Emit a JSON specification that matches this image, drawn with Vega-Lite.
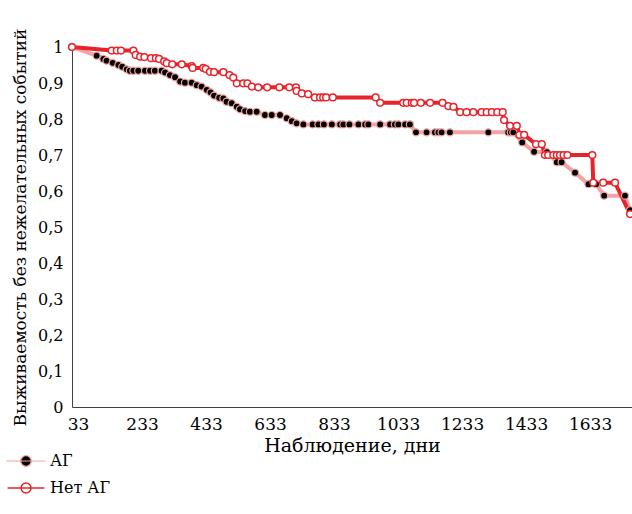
{
  "$schema": "https://vega.github.io/schema/vega-lite/v6.json",
  "width": 560,
  "height": 360,
  "autosize": {"type": "none"},
  "padding": {"left": 72, "top": 47, "right": 0, "bottom": 107},
  "background": "white",
  "config": {
    "view": {"stroke": null},
    "font": "DejaVu Serif",
    "axis": {"labelFont": "DejaVu Serif", "titleFont": "DejaVu Serif", "labelColor": "black", "titleColor": "black", "labelFontSize": 16, "titleFontSize": 17, "titleFontWeight": "normal", "grid": false, "ticks": false, "domainColor": "#404040", "domainWidth": 1},
    "legend": {"labelFont": "DejaVu Serif", "labelFontSize": 16, "labelColor": "black"}
  },
  "data": {
    "values": [
      {"group": "АГ", "day": 14, "surv": 1.0},
      {"group": "АГ", "day": 91, "surv": 0.976},
      {"group": "АГ", "day": 112, "surv": 0.967},
      {"group": "АГ", "day": 122, "surv": 0.962},
      {"group": "АГ", "day": 141, "surv": 0.956},
      {"group": "АГ", "day": 159, "surv": 0.95},
      {"group": "АГ", "day": 171, "surv": 0.945},
      {"group": "АГ", "day": 185, "surv": 0.938},
      {"group": "АГ", "day": 195, "surv": 0.934},
      {"group": "АГ", "day": 206, "surv": 0.934},
      {"group": "АГ", "day": 221, "surv": 0.934},
      {"group": "АГ", "day": 242, "surv": 0.934},
      {"group": "АГ", "day": 258, "surv": 0.934},
      {"group": "АГ", "day": 273, "surv": 0.934},
      {"group": "АГ", "day": 294, "surv": 0.934},
      {"group": "АГ", "day": 305, "surv": 0.929},
      {"group": "АГ", "day": 320, "surv": 0.922},
      {"group": "АГ", "day": 336, "surv": 0.916},
      {"group": "АГ", "day": 352, "surv": 0.904},
      {"group": "АГ", "day": 367, "surv": 0.901},
      {"group": "АГ", "day": 388, "surv": 0.901},
      {"group": "АГ", "day": 404, "surv": 0.894},
      {"group": "АГ", "day": 419, "surv": 0.89},
      {"group": "АГ", "day": 435, "surv": 0.881},
      {"group": "АГ", "day": 447, "surv": 0.874},
      {"group": "АГ", "day": 458, "surv": 0.865},
      {"group": "АГ", "day": 474, "surv": 0.859},
      {"group": "АГ", "day": 487, "surv": 0.857},
      {"group": "АГ", "day": 497, "surv": 0.848},
      {"group": "АГ", "day": 513, "surv": 0.844},
      {"group": "АГ", "day": 529, "surv": 0.834},
      {"group": "АГ", "day": 539, "surv": 0.827},
      {"group": "АГ", "day": 555, "surv": 0.822},
      {"group": "АГ", "day": 570, "surv": 0.82},
      {"group": "АГ", "day": 591, "surv": 0.82},
      {"group": "АГ", "day": 617, "surv": 0.811},
      {"group": "АГ", "day": 638, "surv": 0.811},
      {"group": "АГ", "day": 664, "surv": 0.811},
      {"group": "АГ", "day": 685, "surv": 0.802},
      {"group": "АГ", "day": 701, "surv": 0.794},
      {"group": "АГ", "day": 716, "surv": 0.788},
      {"group": "АГ", "day": 737, "surv": 0.785},
      {"group": "АГ", "day": 766, "surv": 0.785},
      {"group": "АГ", "day": 784, "surv": 0.785},
      {"group": "АГ", "day": 801, "surv": 0.785},
      {"group": "АГ", "day": 826, "surv": 0.785},
      {"group": "АГ", "day": 852, "surv": 0.785},
      {"group": "АГ", "day": 862, "surv": 0.785},
      {"group": "АГ", "day": 881, "surv": 0.785},
      {"group": "АГ", "day": 909, "surv": 0.785},
      {"group": "АГ", "day": 930, "surv": 0.785},
      {"group": "АГ", "day": 940, "surv": 0.785},
      {"group": "АГ", "day": 977, "surv": 0.785},
      {"group": "АГ", "day": 1008, "surv": 0.785},
      {"group": "АГ", "day": 1023, "surv": 0.785},
      {"group": "АГ", "day": 1034, "surv": 0.785},
      {"group": "АГ", "day": 1055, "surv": 0.785},
      {"group": "АГ", "day": 1070, "surv": 0.785},
      {"group": "АГ", "day": 1089, "surv": 0.763},
      {"group": "АГ", "day": 1122, "surv": 0.763},
      {"group": "АГ", "day": 1148, "surv": 0.763},
      {"group": "АГ", "day": 1159, "surv": 0.763},
      {"group": "АГ", "day": 1169, "surv": 0.763},
      {"group": "АГ", "day": 1195, "surv": 0.763},
      {"group": "АГ", "day": 1315, "surv": 0.763},
      {"group": "АГ", "day": 1377, "surv": 0.763},
      {"group": "АГ", "day": 1385, "surv": 0.763},
      {"group": "АГ", "day": 1393, "surv": 0.763},
      {"group": "АГ", "day": 1421, "surv": 0.735},
      {"group": "АГ", "day": 1458, "surv": 0.709},
      {"group": "АГ", "day": 1498, "surv": 0.708},
      {"group": "АГ", "day": 1529, "surv": 0.68},
      {"group": "АГ", "day": 1544, "surv": 0.68},
      {"group": "АГ", "day": 1586, "surv": 0.651},
      {"group": "АГ", "day": 1628, "surv": 0.619},
      {"group": "АГ", "day": 1652, "surv": 0.619},
      {"group": "АГ", "day": 1677, "surv": 0.587},
      {"group": "АГ", "day": 1742, "surv": 0.587},
      {"group": "АГ", "day": 1758, "surv": 0.547},
      {"group": "Нет АГ", "day": 14, "surv": 1.0},
      {"group": "Нет АГ", "day": 138, "surv": 0.99},
      {"group": "Нет АГ", "day": 154, "surv": 0.99},
      {"group": "Нет АГ", "day": 167, "surv": 0.99},
      {"group": "Нет АГ", "day": 206, "surv": 0.99},
      {"group": "Нет АГ", "day": 213, "surv": 0.978},
      {"group": "Нет АГ", "day": 227, "surv": 0.973},
      {"group": "Нет АГ", "day": 240, "surv": 0.972},
      {"group": "Нет АГ", "day": 261, "surv": 0.969},
      {"group": "Нет АГ", "day": 276, "surv": 0.969},
      {"group": "Нет АГ", "day": 286, "surv": 0.967},
      {"group": "Нет АГ", "day": 302, "surv": 0.96},
      {"group": "Нет АГ", "day": 310, "surv": 0.955},
      {"group": "Нет АГ", "day": 327, "surv": 0.952},
      {"group": "Нет АГ", "day": 357, "surv": 0.952},
      {"group": "Нет АГ", "day": 388, "surv": 0.947},
      {"group": "Нет АГ", "day": 391, "surv": 0.942},
      {"group": "Нет АГ", "day": 424, "surv": 0.942},
      {"group": "Нет АГ", "day": 432, "surv": 0.939},
      {"group": "Нет АГ", "day": 445, "surv": 0.931},
      {"group": "Нет АГ", "day": 458, "surv": 0.93},
      {"group": "Нет АГ", "day": 487, "surv": 0.93},
      {"group": "Нет АГ", "day": 506, "surv": 0.922},
      {"group": "Нет АГ", "day": 518, "surv": 0.915},
      {"group": "Нет АГ", "day": 529, "surv": 0.899},
      {"group": "Нет АГ", "day": 549, "surv": 0.899},
      {"group": "Нет АГ", "day": 562, "surv": 0.899},
      {"group": "Нет АГ", "day": 576, "surv": 0.89},
      {"group": "Нет АГ", "day": 596, "surv": 0.888},
      {"group": "Нет АГ", "day": 624, "surv": 0.888},
      {"group": "Нет АГ", "day": 662, "surv": 0.888},
      {"group": "Нет АГ", "day": 693, "surv": 0.888},
      {"group": "Нет АГ", "day": 714, "surv": 0.888},
      {"group": "Нет АГ", "day": 716, "surv": 0.878},
      {"group": "Нет АГ", "day": 732, "surv": 0.871},
      {"group": "Нет АГ", "day": 752, "surv": 0.869},
      {"group": "Нет АГ", "day": 773, "surv": 0.86},
      {"group": "Нет АГ", "day": 789, "surv": 0.86},
      {"group": "Нет АГ", "day": 799, "surv": 0.86},
      {"group": "Нет АГ", "day": 808, "surv": 0.86},
      {"group": "Нет АГ", "day": 829, "surv": 0.86},
      {"group": "Нет АГ", "day": 963, "surv": 0.86},
      {"group": "Нет АГ", "day": 977, "surv": 0.845},
      {"group": "Нет АГ", "day": 1049, "surv": 0.845},
      {"group": "Нет АГ", "day": 1060, "surv": 0.845},
      {"group": "Нет АГ", "day": 1076, "surv": 0.845},
      {"group": "Нет АГ", "day": 1083, "surv": 0.845},
      {"group": "Нет АГ", "day": 1104, "surv": 0.845},
      {"group": "Нет АГ", "day": 1133, "surv": 0.845},
      {"group": "Нет АГ", "day": 1172, "surv": 0.845},
      {"group": "Нет АГ", "day": 1190, "surv": 0.836},
      {"group": "Нет АГ", "day": 1206, "surv": 0.834},
      {"group": "Нет АГ", "day": 1227, "surv": 0.819},
      {"group": "Нет АГ", "day": 1247, "surv": 0.819},
      {"group": "Нет АГ", "day": 1268, "surv": 0.819},
      {"group": "Нет АГ", "day": 1294, "surv": 0.819},
      {"group": "Нет АГ", "day": 1310, "surv": 0.819},
      {"group": "Нет АГ", "day": 1326, "surv": 0.819},
      {"group": "Нет АГ", "day": 1343, "surv": 0.819},
      {"group": "Нет АГ", "day": 1360, "surv": 0.819},
      {"group": "Нет АГ", "day": 1364, "surv": 0.797},
      {"group": "Нет АГ", "day": 1383, "surv": 0.781},
      {"group": "Нет АГ", "day": 1404, "surv": 0.781},
      {"group": "Нет АГ", "day": 1412, "surv": 0.756},
      {"group": "Нет АГ", "day": 1427, "surv": 0.756},
      {"group": "Нет АГ", "day": 1464, "surv": 0.73},
      {"group": "Нет АГ", "day": 1482, "surv": 0.73},
      {"group": "Нет АГ", "day": 1492, "surv": 0.7},
      {"group": "Нет АГ", "day": 1502, "surv": 0.7},
      {"group": "Нет АГ", "day": 1518, "surv": 0.7},
      {"group": "Нет АГ", "day": 1529, "surv": 0.7},
      {"group": "Нет АГ", "day": 1539, "surv": 0.7},
      {"group": "Нет АГ", "day": 1550, "surv": 0.7},
      {"group": "Нет АГ", "day": 1562, "surv": 0.7},
      {"group": "Нет АГ", "day": 1640, "surv": 0.7},
      {"group": "Нет АГ", "day": 1643, "surv": 0.623},
      {"group": "Нет АГ", "day": 1674, "surv": 0.623},
      {"group": "Нет АГ", "day": 1711, "surv": 0.623},
      {"group": "Нет АГ", "day": 1758, "surv": 0.536}
    ]
  },
  "encoding": {
    "x": {"field": "day", "type": "quantitative", "scale": {"domain": [14, 1764], "nice": false, "zero": false},
      "axis": {"values": [33, 233, 433, 633, 833, 1033, 1233, 1433, 1633], "format": "d", "title": "Наблюдение, дни", "labelFontSize": 17, "titleFontSize": 19, "labelPadding": 9, "titlePadding": 4, "labelFlush": false}},
    "y": {"field": "surv", "type": "quantitative", "scale": {"domain": [0, 1], "nice": false},
      "axis": {"values": [0, 0.1, 0.2, 0.3, 0.4, 0.5, 0.6, 0.7, 0.8, 0.9, 1], "labelExpr": "replace(format(datum.value, '.1~f'), '.', ',')", "title": "Выживаемость без нежелательных событий", "labelPadding": 9, "titlePadding": 8}}
  },
  "layer": [
    {
      "mark": {"type": "line", "strokeWidth": 4},
      "encoding": {
        "color": {"field": "group", "type": "nominal",
          "scale": {"domain": ["АГ", "Нет АГ"], "range": ["#F4A3A3", "#E8232B"]},
          "legend": {
            "orient": "none", "legendX": -54, "legendY": 406, "padding": 0, "rowPadding": 10,
            "title": null,
            "symbolType": "M-5.5,0L5.5,0M1.5,0A1.5,1.5,0,1,1,-1.5,0A1.5,1.5,0,1,1,1.5,0",
            "symbolSize": 324, "symbolStrokeWidth": 3, "labelOffset": 16,
            "encode": {"symbols": {"update": {
              "fill": [{"test": "datum.value === 'АГ'", "value": "black"}, {"value": "white"}],
              "stroke": [{"test": "datum.value === 'АГ'", "value": "#F4A3A3"}, {"value": "#E8232B"}],
              "opacity": {"value": 1}
            }}}
          }
        }
      }
    },
    {
      "mark": {"type": "point", "filled": false, "opacity": 1},
      "encoding": {
        "fill": {"field": "group", "type": "nominal", "scale": {"domain": ["АГ", "Нет АГ"], "range": ["black", "white"]}, "legend": null},
        "stroke": {"field": "group", "type": "nominal", "scale": {"domain": ["АГ", "Нет АГ"], "range": ["#F4A3A3", "#E8232B"]}, "legend": null},
        "strokeWidth": {"field": "group", "type": "nominal", "scale": {"domain": ["АГ", "Нет АГ"], "range": [1.2, 1.5]}, "legend": null},
        "size": {"field": "group", "type": "nominal", "scale": {"domain": ["АГ", "Нет АГ"], "range": [50, 45]}, "legend": null}
      }
    }
  ]
}
